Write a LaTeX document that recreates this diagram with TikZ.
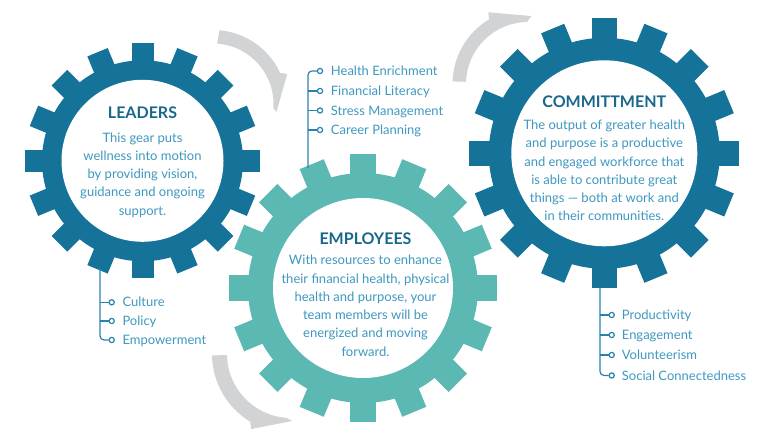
\documentclass[tikz,border=0pt]{standalone}
\usepackage{fontspec}
\setmainfont{Lato}
\usetikzlibrary{calc}
\definecolor{gearblue}{RGB}{21,114,152}
\definecolor{gearteal}{RGB}{91,184,178}
\definecolor{headblue}{RGB}{24,104,140}
\definecolor{textblue}{RGB}{62,152,192}
\definecolor{arrowgray}{RGB}{209,211,212}
\definecolor{linecol}{RGB}{41,130,173}
\newcommand\mygear[7]{%
  \fill[#7] (#1,#2) circle[radius=#4pt];
  \foreach \a in {0,22.5,...,337.5}{
    \fill[#7, shift={(#1,#2)}, rotate=\a] (#4-3, -#6/2) rectangle (#3, #6/2);
  }
  \fill[white] (#1,#2) circle[radius=#5pt];
}
\begin{document}
\begin{tikzpicture}[x=1pt,y=1pt,
  bodytxt/.style={text=textblue, font=\fontsize{13}{18.3}\selectfont, align=center, inner sep=0pt},
  headtxt/.style={text=headblue, font=\bfseries\fontsize{16}{19}\selectfont, inner sep=0pt},
  itemtxt/.style={text=textblue, font=\fontsize{13}{15}\selectfont, anchor=west, inner sep=0pt, text height=9.2pt, text depth=0pt},
  dot/.style={circle, draw=linecol, fill=white, line width=1.2pt, inner sep=0pt, minimum size=5.2pt},
  conn/.style={draw=linecol, line width=1.2pt},
  garrow/.style={fill=arrowgray}]
\useasboundingbox (0,0) rectangle (768,438);

% curved arrows
\fill[garrow, shift={(213,334)}] (86:60.5pt) arc[start angle=86, end angle=-4, radius=60.5pt]
  -- (-7:64pt) -- (22:80pt) -- (25:74pt) arc[start angle=25, end angle=85, radius=74pt] -- cycle;
\fill[garrow, shift={(291,84)}] (181:64pt) arc[start angle=181, end angle=266, radius=64pt]
  -- (271:67pt) -- (242:85pt) -- (239:79pt) arc[start angle=239, end angle=181, radius=79pt] -- cycle;
\fill[garrow, shift={(528,354)}] (178:62pt) arc[start angle=178, end angle=91, radius=62pt]
  -- (87:68pt) -- (119:82pt) -- (121:75.5pt) arc[start angle=121, end angle=178, radius=75.5pt] -- cycle;

% gears
\mygear{142.5}{277.2}{117.5}{100.5}{81}{22}{gearblue}
\mygear{604.3}{284.7}{135}{115.5}{93}{25}{gearblue}
\mygear{363}{150}{134}{115}{90}{26}{gearteal}

% gear texts
\node[headtxt] (h1) at (142.5,325.3) {LEADERS};
\node[bodytxt] (b1) at (142.5,263) {This gear puts\\wellness into motion\\by providing vision,\\guidance and ongoing\\support.};
\node[headtxt] (h2) at (365.5,199.7) {EMPLOYEES};
\node[bodytxt] (b2) at (365.5,132.2) {With resources to enhance\\their financial health, physical\\health and purpose, your\\team members will be\\energized and moving\\forward.};
\node[headtxt] (h3) at (604.3,336.3) {COMMITTMENT};
\node[bodytxt] (b3) at (604.3,267.5) {The output of greater health\\and purpose is a productive\\and engaged workforce that\\is able to contribute great\\things — both at work and\\in their communities.};

% middle list
\coordinate (ms) at (308,270);
\node[dot] (m1) at (320,367) {};
\node[dot] (m2) at (320,347) {};
\node[dot] (m3) at (320,327.5) {};
\node[dot] (m4) at (320,308) {};
\node[itemtxt] (mt1) at (330.7,367) {Health Enrichment};
\node[itemtxt] (mt2) at (330.7,347) {Financial Literacy};
\node[itemtxt] (mt3) at (330.7,327.5) {Stress Management};
\node[itemtxt] (mt4) at (330.7,308) {Career Planning};
\draw[conn, rounded corners=4pt] (ms) |- (m1.west);
\draw[conn] (m2.west -| ms) -- (m2.west);
\draw[conn] (m3.west -| ms) -- (m3.west);
\draw[conn] (m4.west -| ms) -- (m4.west);

% left list
\coordinate (ls) at (100,170);
\node[dot] (l1) at (111.7,135.7) {};
\node[dot] (l2) at (111.7,117) {};
\node[dot] (l3) at (111.7,98) {};
\node[itemtxt] (lt1) at (122.3,135.7) {Culture};
\node[itemtxt] (lt2) at (122.3,117) {Policy};
\node[itemtxt] (lt3) at (122.3,98) {Empowerment};
\draw[conn, rounded corners=4pt] (ls) |- (l3.west);
\draw[conn] (l1.west -| ls) -- (l1.west);
\draw[conn] (l2.west -| ls) -- (l2.west);

% right list
\coordinate (rs) at (600,151);
\node[dot] (r1) at (611.7,123) {};
\node[dot] (r2) at (611.7,103) {};
\node[dot] (r3) at (611.7,83) {};
\node[dot] (r4) at (611.7,62.5) {};
\node[itemtxt] (rt1) at (621.7,123) {Productivity};
\node[itemtxt] (rt2) at (621.7,103) {Engagement};
\node[itemtxt] (rt3) at (621.7,83) {Volunteerism};
\node[itemtxt] (rt4) at (621.7,62.5) {Social Connectedness};
\draw[conn, rounded corners=4pt] (rs) |- (r4.west);
\draw[conn] (r1.west -| rs) -- (r1.west);
\draw[conn] (r2.west -| rs) -- (r2.west);
\draw[conn] (r3.west -| rs) -- (r3.west);
\end{tikzpicture}
\end{document}
